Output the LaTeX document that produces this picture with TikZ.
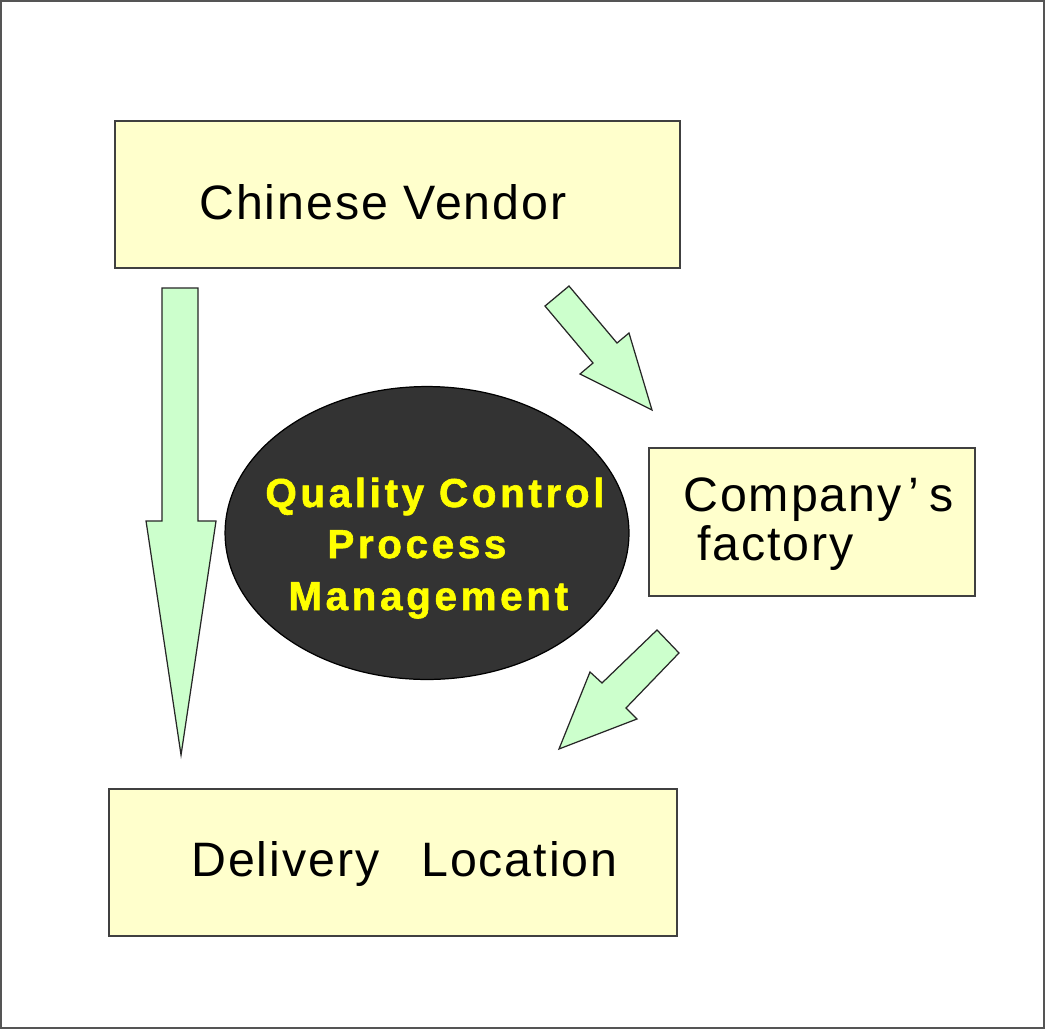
\documentclass[tikz,border=0pt]{standalone}
\usepackage{fontspec}
\setmainfont{Liberation Sans}
\newfontfamily\qcfont[LetterSpace=9,FakeBold=1.5]{Liberation Sans Bold}
\newfontfamily\boxfont[LetterSpace=4]{Liberation Sans}
\usetikzlibrary{shapes.geometric}
\definecolor{boxfill}{HTML}{FFFFCC}
\definecolor{arrowfill}{HTML}{CCFFCC}
\definecolor{ellfill}{HTML}{333333}
\definecolor{qcyellow}{HTML}{FFFF00}
\definecolor{framegray}{HTML}{555555}
\tikzset{
  box/.style={draw=black!75, fill=boxfill, line width=0.8pt},
  fatarrow/.style={draw=black!85, fill=arrowfill, line width=0.7pt, line join=miter},
  boxtext/.style={anchor=base west, inner sep=0pt, font=\boxfont\fontsize{27.5pt}{30pt}\selectfont},
  qctext/.style={anchor=base west, inner sep=0pt, text=qcyellow, font=\qcfont\fontsize{23pt}{26pt}\selectfont},
}
\begin{document}
\begin{tikzpicture}[x=0.02cm,y=-0.02cm]
\draw[framegray, line width=1.2pt, fill=white] (1,1) rectangle (1044,1028);
\useasboundingbox (0,0) rectangle (1045,1029);
% boxes
\draw[box] (115,121) rectangle (680,268);
\draw[box] (649,448) rectangle (975,596);
\draw[box] (109,789) rectangle (677,936);
\node[boxtext] (cv) at (199,219) {Chinese Vendor};
\node[boxtext] (cf1) at (683,511) {Company\hspace{0.15em}’\hspace{0.2em}s};
\node[boxtext] (cf2) at (697,560) {factory};
\node[boxtext] (dl) at (191,877) {Delivery\hspace{0.55em} Location};
% ellipse
\node[ellipse, draw=black, fill=ellfill, line width=0.7pt, minimum width=8.08cm, minimum height=5.86cm, inner sep=0pt] (qc) at (427,533) {};
\node[qctext] (q1) at (265,507) {Quality Control};
\node[qctext] (q2) at (327,558) {Process};
\node[qctext] (q3) at (288,610) {Management};
% arrows
\draw[fatarrow] (162,288) -- (198,288) -- (198,521) -- (216,521) -- (181,755) -- (146,521) -- (162,521) -- cycle;
\draw[fatarrow] (545,306) -- (569,286) -- (617,343) -- (629,333) -- (652,410) -- (580,374) -- (593,363) -- cycle;
\draw[fatarrow] (657,630) -- (679,653) -- (626,708) -- (637,719) -- (559,749) -- (590,672) -- (602,683) -- cycle;
\end{tikzpicture}
\end{document}
